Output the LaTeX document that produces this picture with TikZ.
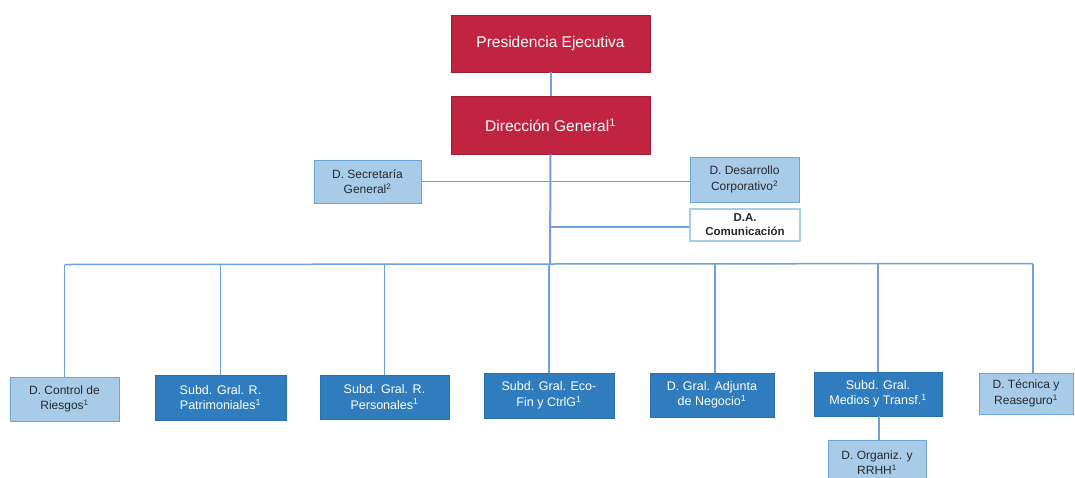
\documentclass[tikz,border=0pt]{standalone}
\usepackage{fontspec}
\setmainfont{Liberation Sans}
\definecolor{redbox}{RGB}{192,36,64}
\definecolor{darkbox}{RGB}{47,125,191}
\definecolor{lightfill}{RGB}{168,204,232}
\definecolor{lightborder}{RGB}{110,165,215}
\definecolor{linecol}{RGB}{110,162,222}
\definecolor{txtdark}{RGB}{40,40,45}
\begin{document}
\begin{tikzpicture}[x=1pt,y=-1pt,
  redstyle/.style={fill=redbox,draw=redbox!85!black,line width=0.6pt,text=white,font=\fontsize{15.5}{18}\selectfont,align=center,inner sep=0pt},
  darkstyle/.style={fill=darkbox,draw=darkbox!90!black,line width=0.6pt,text=white,font=\fontsize{12.5}{15.5}\selectfont,align=center,inner sep=0pt},
  lightstyle/.style={fill=lightfill,draw=lightborder,line width=1pt,text=txtdark,font=\fontsize{12}{15.5}\selectfont,align=center,inner sep=0pt},
  whitestyle/.style={fill=white,draw=lightfill,line width=1.2pt,text=txtdark,font=\bfseries\fontsize{11.5}{14}\selectfont,align=center,inner sep=0pt},
  conn/.style={draw=linecol,line width=1.5pt},
  thinconn/.style={draw=linecol,line width=1.1pt}]
\useasboundingbox (0,0) rectangle (1075,477);
\fill[white] (0,0) rectangle (1075,477);
% top
\node[redstyle,minimum width=199pt,minimum height=57pt] (pres) at (550.5,43.5) {Presidencia Ejecutiva};
\node[redstyle,minimum width=199pt,minimum height=58pt] (dg) at (550.5,125) {Dirección General\textsuperscript{1}};
% staff
\node[lightstyle,minimum width=107pt,minimum height=43pt] (sec) at (367.5,181.5) {D. Secretaría\\General\textsuperscript{2}};
\node[lightstyle,minimum width=109pt,minimum height=45pt] (des) at (744.5,179.5) {D. Desarrollo\\Corporativo\textsuperscript{2}};
\node[whitestyle,minimum width=110pt,minimum height=32pt] (com) at (745,225) {D.A.\\Comunicación};
% bottom row
\node[lightstyle,minimum width=109pt,minimum height=44pt] (ctrl) at (64.5,399) {D. Control de\\Riesgos\textsuperscript{1}};
\node[darkstyle,minimum width=131pt,minimum height=45pt] (pat) at (220.5,397.5) {Subd. Gral. R.\\Patrimoniales\textsuperscript{1}};
\node[darkstyle,minimum width=129pt,minimum height=44pt] (per) at (384.5,397) {Subd. Gral. R.\\Personales\textsuperscript{1}};
\node[darkstyle,minimum width=130pt,minimum height=45pt] (eco) at (549,395.5) {Subd. Gral. Eco-\\Fin y CtrlG\textsuperscript{1}};
\node[darkstyle,minimum width=124pt,minimum height=44pt] (adj) at (712,395) {D. Gral. Adjunta\\de Negocio\textsuperscript{1}};
\node[darkstyle,minimum width=128pt,minimum height=44pt] (med) at (878,394) {Subd. Gral.\\Medios y Transf.\textsuperscript{1}};
\node[lightstyle,minimum width=94pt,minimum height=41pt] (tec) at (1026,393.5) {D. Técnica y\\Reaseguro\textsuperscript{1}};
\node[lightstyle,minimum width=98pt,minimum height=45pt] (org) at (877,462.5) {D. Organiz. y\\RRHH\textsuperscript{1}};
% connectors
\coordinate (busC) at (550,264);
\coordinate (busL) at (64.5,264.5);
\coordinate (busR) at (1033,263.5);
\coordinate (comJ) at (550,227);
\draw[conn,line width=2pt] (pres.south) -- (dg.north);
\draw[conn,line width=2pt] (dg.south) -- (busC);
\draw[thinconn] (sec.east) -- (sec.east -| des.west);
\draw[thinconn] (comJ) -- (comJ -| com.west);
\draw[conn] (busL) -- (busR);
\draw[thinconn] (ctrl.north) -- (busL);
\draw[thinconn] (pat.north) -- (pat.north |- busC);
\draw[thinconn] (per.north) -- (per.north |- busC);
\draw[thinconn] (eco.north) -- (eco.north |- busC);
\draw[thinconn] ([xshift=3pt]adj.north) -- ([xshift=3pt]adj.north |- busC);
\draw[thinconn] (med.north) -- (med.north |- busC);
\draw[thinconn] ([xshift=7pt]tec.north) -- (busR);
\draw[thinconn,line width=2pt] ([xshift=1pt]med.south) -- ([xshift=1pt]med.south |- org.north);
\end{tikzpicture}
\end{document}
